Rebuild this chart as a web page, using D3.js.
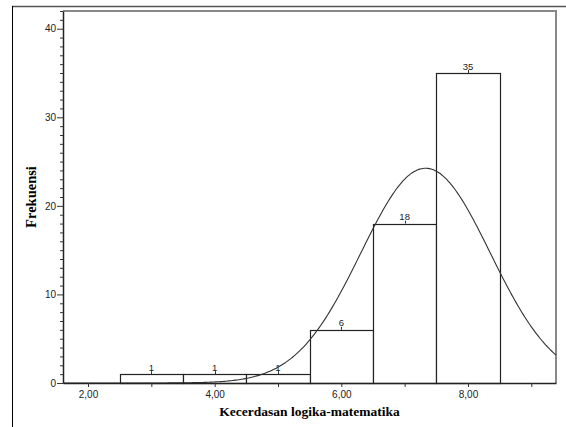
<!DOCTYPE html>
<html>
<head>
<meta charset="utf-8">
<script src="https://cdn.jsdelivr.net/npm/d3@7"></script>
<style>
  body { margin: 0; background: #fff; }
  svg { display: block; }
</style>
</head>
<body>
<div id="chart"></div>
<script>
// bins of the histogram (lower edge, upper edge) and their counts
const binStarts = [2.5, 3.5, 4.5, 5.5, 6.5, 7.5];
const binEnds = [3.5, 4.5, 5.5, 6.5, 7.5, 8.5];
const counts = [1, 1, 1, 6, 18, 35];

// normal curve parameters (as SPSS draws it over the histogram)
const curveMean = 7.33;
const curveSd = 1.02;
const curveN = 62;

const xTicks = [2, 3, 4, 5, 6, 7, 8, 9];
const xTickLabels = ["2,00", "", "4,00", "", "6,00", "", "8,00", ""];
const yMajorTicks = [0, 10, 20, 30, 40];

const W = 566, H = 427;
const plot = { left: 63, top: 11, right: 556, bottom: 383 };

const svg = d3.select("#chart")
  .append("svg")
    .attr("width", W)
    .attr("height", H);

const x = d3.scaleLinear()
    .domain([1.605, 9.39])
    .range([plot.left, plot.right]);

const y = d3.scaleLinear()
    .domain([0, 42])
    .range([plot.bottom, plot.top]);

// outer frame (top + left only visible)
svg.append("line")
    .attr("x1", 12).attr("x2", W).attr("y1", 6.5).attr("y2", 6.5)
    .attr("stroke", "#555").attr("stroke-width", 1.5);
svg.append("line")
    .attr("x1", 12.5).attr("x2", 12.5).attr("y1", 6).attr("y2", H)
    .attr("stroke", "#000").attr("stroke-width", 1);

// plot frame top and right
svg.append("path")
    .attr("d", `M${plot.left},${plot.top}H${plot.right}V${plot.bottom}`)
    .attr("fill", "none")
    .attr("stroke", "#888")
    .attr("stroke-width", 2);

// bars
const bins = counts.map((c, i) => ({ x0: binStarts[i], x1: binEnds[i], count: c }));

svg.append("g")
  .selectAll("rect")
  .data(bins)
  .join("rect")
    .attr("x", d => Math.round(x(d.x0)) + 0.5)
    .attr("y", d => Math.round(y(d.count)) + 0.5)
    .attr("width", d => Math.round(x(d.x1)) - Math.round(x(d.x0)))
    .attr("height", d => Math.round(y(0)) - Math.round(y(d.count)))
    .attr("fill", "#fff")
    .attr("stroke", "#222")
    .attr("stroke-width", 1.2);

// small tick at the top of each bar + count label
svg.append("g")
  .selectAll("line")
  .data(bins)
  .join("line")
    .attr("x1", d => Math.round(x((d.x0 + d.x1) / 2)) + 0.5)
    .attr("x2", d => Math.round(x((d.x0 + d.x1) / 2)) + 0.5)
    .attr("y1", d => y(d.count))
    .attr("y2", d => y(d.count) - 3)
    .attr("stroke", "#333")
    .attr("stroke-width", 1);

svg.append("g")
  .selectAll("text")
  .data(bins)
  .join("text")
    .attr("x", d => x((d.x0 + d.x1) / 2))
    .attr("y", d => y(d.count) - 3.5)
    .attr("text-anchor", "middle")
    .style("font-family", "Arial, 'Liberation Sans', sans-serif")
    .style("font-size", "9.5px")
    .style("fill", "#222")
    .text(d => d.count);

// normal curve
const [dMin, dMax] = x.domain();
const curvePts = d3.range(0, 301).map(i => {
  const v = dMin + (dMax - dMin) * i / 300;
  const z = (v - curveMean) / curveSd;
  return [v, curveN * Math.exp(-0.5 * z * z) / (curveSd * Math.sqrt(2 * Math.PI))];
});

svg.append("path")
    .datum(curvePts)
    .attr("fill", "none")
    .attr("stroke", "#333")
    .attr("stroke-width", 1.1)
    .attr("d", d3.line().x(d => x(d[0])).y(d => y(d[1])).curve(d3.curveBasis));

// X axis
const xAxis = svg.append("g")
    .attr("transform", `translate(0,${plot.bottom})`)
    .call(d3.axisBottom(x)
      .tickValues(xTicks)
      .tickSize(4)
      .tickSizeOuter(0)
      .tickFormat((d, i) => xTickLabels[i]));

// Y axis
const yAxis = svg.append("g")
    .attr("transform", `translate(${plot.left},0)`)
    .call(d3.axisLeft(y)
      .tickValues(d3.range(0, 43))
      .tickSize(3)
      .tickSizeOuter(0)
      .tickFormat(d => yMajorTicks.includes(d) ? d : ""));

yAxis.selectAll(".tick line")
    .attr("x2", d => yMajorTicks.includes(d) ? -6 : -3);
yAxis.selectAll(".tick text").attr("x", -7);

[xAxis, yAxis].forEach(ax => {
  ax.select(".domain").attr("stroke", "#222").attr("stroke-width", 1.5);
  ax.selectAll(".tick line").attr("stroke", "#333");
  ax.selectAll(".tick text")
    .style("font-family", "Arial, 'Liberation Sans', sans-serif")
    .style("font-size", "10px")
    .style("fill", "#222");
});
xAxis.selectAll(".tick text").attr("y", 8);

// axis titles
svg.append("text")
    .attr("x", (plot.left + plot.right) / 2)
    .attr("y", 416)
    .attr("text-anchor", "middle")
    .style("font-family", "'Liberation Serif', 'Times New Roman', serif")
    .style("font-weight", "bold")
    .style("font-size", "13.5px")
    .text("Kecerdasan logika-matematika");

svg.append("text")
    .attr("transform", `translate(36,${(plot.top + plot.bottom) / 2}) rotate(-90)`)
    .attr("text-anchor", "middle")
    .style("font-family", "'Liberation Serif', 'Times New Roman', serif")
    .style("font-weight", "bold")
    .style("font-size", "14.5px")
    .text("Frekuensi");
</script>
</body>
</html>
